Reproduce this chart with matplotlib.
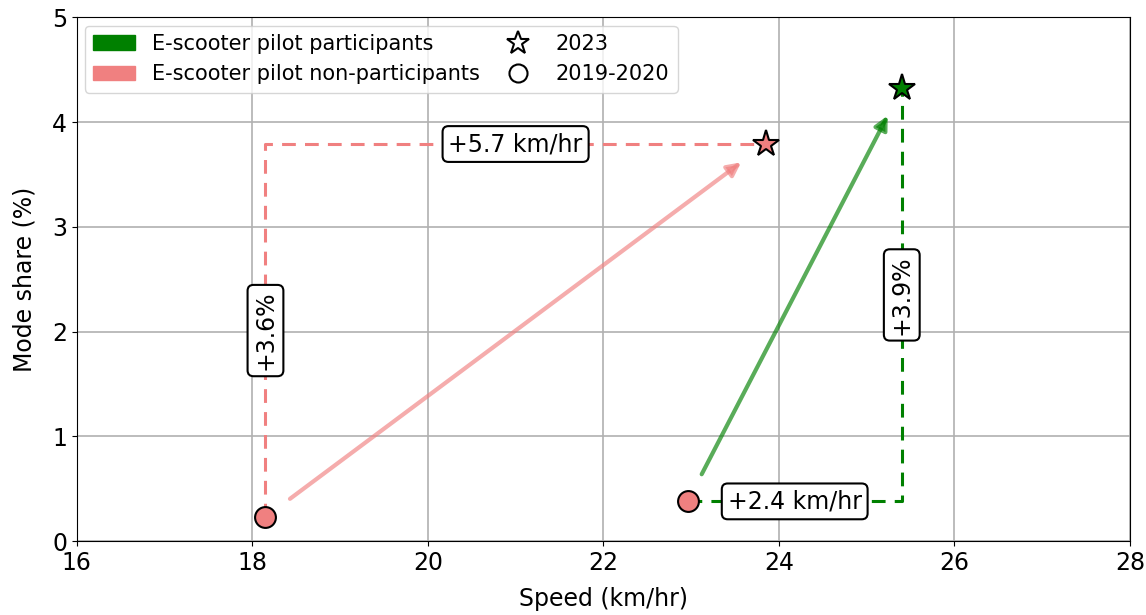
import matplotlib
matplotlib.use("Agg")
import matplotlib.pyplot as plt
from matplotlib.patches import Patch
from matplotlib.lines import Line2D

groups = ["E-scooter pilot participants", "E-scooter pilot non-participants"]
colors = ["green", "lightcoral"]
speed_before = [22.96, 18.15]
speed_after = [25.40, 23.85]
share_before = [0.38, 0.23]
share_after = [4.32, 3.79]
speed_labels = ["+2.4 km/hr", "+5.7 km/hr"]
share_labels = ["+3.9%", "+3.6%"]

plt.rcParams['font.size'] = 17

fig, ax = plt.subplots(figsize=(11.46, 6.15), dpi=100)
fig.subplots_adjust(left=0.067, right=0.986, top=0.972, bottom=0.12)

box = dict(boxstyle="round,pad=0.25", facecolor="white", edgecolor="black", linewidth=1.5)

for i in range(2):
    c = colors[i]
    x0, x1 = speed_before[i], speed_after[i]
    y0, y1 = share_before[i], share_after[i]
    if i == 0:
        # across first, then up
        ax.plot([x0, x1, x1], [y0, y0, y1], ls="--", dashes=(4.5, 3), color=c, lw=2.2, zorder=2)
    else:
        # up first, then across
        ax.plot([x0, x0, x1], [y0, y1, y1], ls="--", dashes=(4.5, 3), color=c, lw=2.2, zorder=2)
    ax.annotate("", xy=(x1, y1), xytext=(x0, y0),
                arrowprops=dict(arrowstyle="-|>", color=c, alpha=0.65, lw=3,
                                mutation_scale=20, shrinkA=22, shrinkB=22),
                zorder=3)
    # 2019-2020 circles are all drawn in the light red
    ax.plot(x0, y0, marker="o", ms=15, color="lightcoral", mec="black", mew=1.5, ls="none", zorder=5)
    ax.plot(x1, y1, marker="*", ms=20, color=c, mec="black", mew=1.5, ls="none", zorder=5)

    if i == 0:
        ax.text((x0 + x1) / 2, y0, speed_labels[i], ha="center", va="center", bbox=box, zorder=6)
        ax.text(x1, (y0 + y1) / 2, share_labels[i], ha="center", va="center", rotation=90, bbox=box, zorder=6)
    else:
        ax.text((x0 + x1) / 2, y1, speed_labels[i], ha="center", va="center", bbox=box, zorder=6)
        ax.text(x0, (y0 + y1) / 2, share_labels[i], ha="center", va="center", rotation=90, bbox=box, zorder=6)

ax.set_xlim(16, 28)
ax.set_ylim(0, 5)
ax.set_xticks(range(16, 29, 2))
ax.set_yticks(range(0, 6))
ax.grid(True, color="#b0b0b0", lw=1.2)
ax.set_axisbelow(True)
ax.set_xlabel("Speed (km/hr)", labelpad=9)
ax.set_ylabel("Mode share (%)", labelpad=11)

handles = [
    Patch(color=colors[0], label=groups[0]),
    Patch(color=colors[1], label=groups[1]),
    Line2D([], [], marker="*", ls="none", ms=17, mfc="white", mec="black", mew=1.5, label="2023"),
    Line2D([], [], marker="o", ls="none", ms=13, mfc="white", mec="black", mew=1.5, label="2019-2020"),
]
ax.legend(handles=handles, loc="upper left", ncol=2, fontsize=15, columnspacing=0.85,
          borderaxespad=0.4, handletextpad=0.8)

fig.savefig("out.png")
